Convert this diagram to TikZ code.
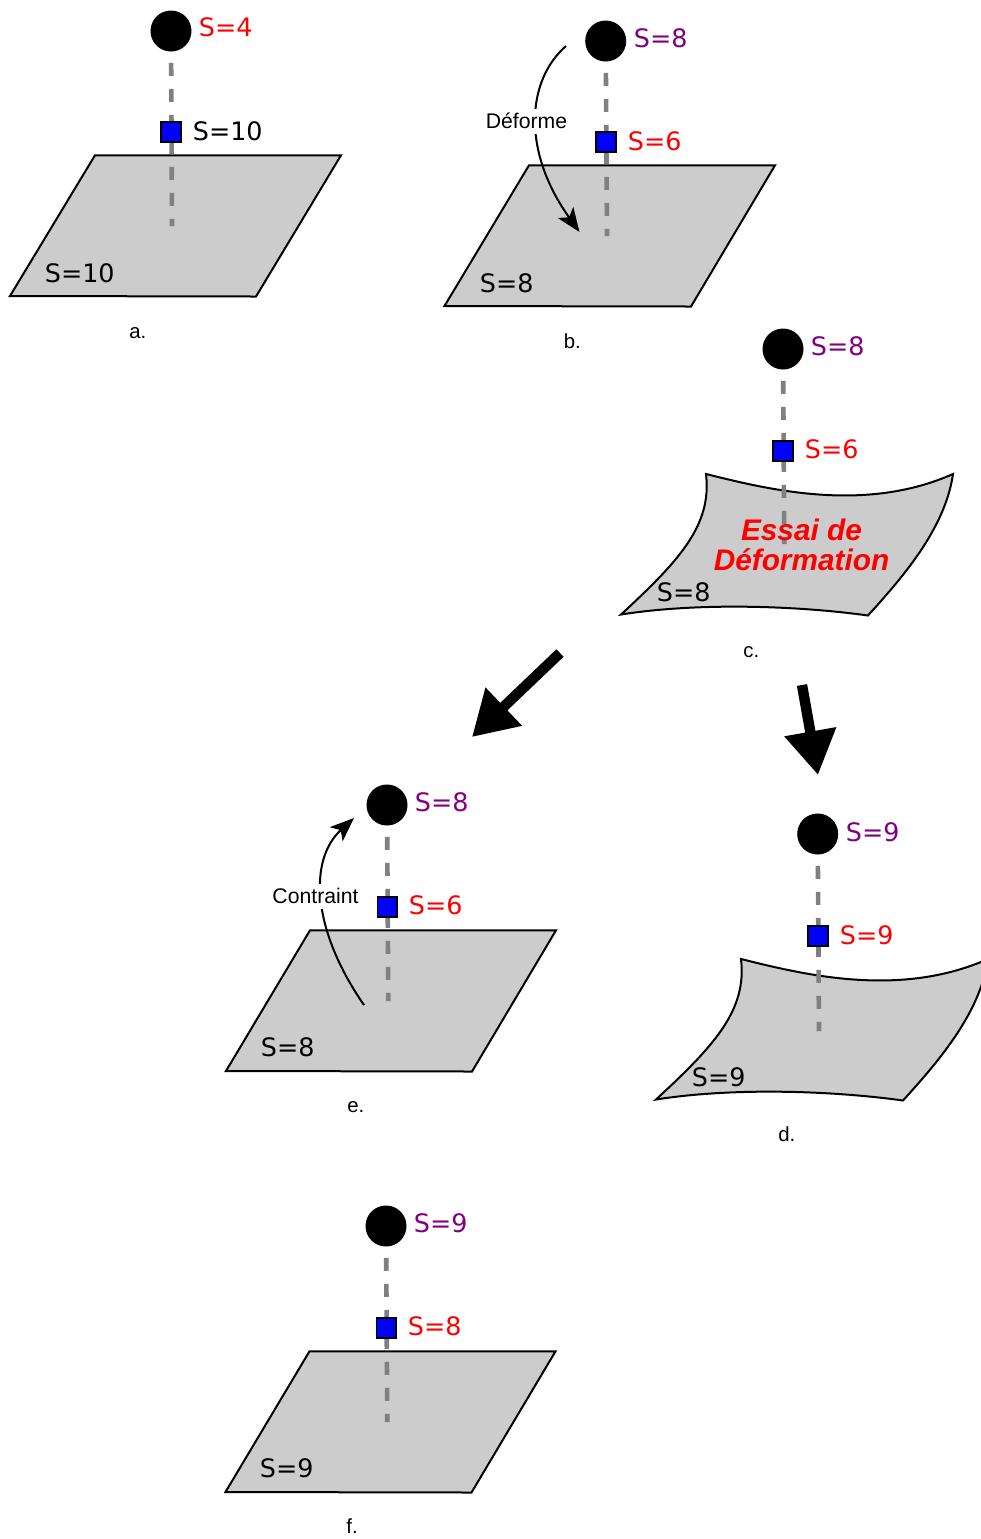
\documentclass[tikz,border=0pt]{standalone}
\usepackage{fontspec}
\setmainfont{Liberation Sans}
\newfontfamily\djvfont{DejaVu Sans}
\usepackage{xcolor}
\usetikzlibrary{arrows.meta}
\definecolor{plategray}{HTML}{CCCCCC}
\definecolor{stemgray}{HTML}{808080}
\definecolor{spurple}{HTML}{800080}
\definecolor{sred}{HTML}{FF0000}
\definecolor{sblue}{HTML}{0000FF}

\begin{document}
\begin{tikzpicture}[
  x=0.5pt, y=-0.5pt,
  plate/.style={draw=black, fill=plategray, line width=1pt, line join=miter},
  stem/.style={stemgray, line width=2.3pt, dash pattern=on 6.5pt off 6.5pt, shorten <=5.5pt},
  ball/.style={circle, fill=black, minimum size=20.5pt, inner sep=0pt},
  probe/.style={draw=black, fill=sblue, line width=0.9pt, minimum size=9.8pt, inner sep=0pt},
  slabel/.style={anchor=base west, inner sep=0pt, font=\djvfont\fontsize{12.7}{15}\selectfont},
  tag/.style={anchor=base west, inner sep=0pt, font=\fontsize{10.2}{12}\selectfont},
  curvearrow/.style={-{Stealth[length=12pt, width=9.5pt, inset=3pt]}, line width=1pt},
  actor/.style={fill=white, inner sep=0pt, minimum height=12.5pt, font=\fontsize{10.6}{12}\selectfont},
  bigarrow/.style={-{Triangle[length=22pt, width=25pt]}, line width=5.2pt},
  ]
  \useasboundingbox (0,0) rectangle (981,1539);

  % a.
  \draw[plate] (95,155.3) -- (341,155.3) -- (256,296.5) -- (10,296) -- cycle;
  \node[ball] (b1) at (171,31) {};
  \coordinate (e1) at (172,226);
  \draw[stem] (b1) -- (e1);
  \node[probe] (q1) at (171,132) {};
  \node[slabel, text=sred] (s1) at (198.5,36.5) {S=4};
  \node[slabel] (t1) at (192.5,140) {S=10};
  \node[slabel] (p1) at (44.5,282.5) {S=10};
  \node[tag] (l1) at (129,338) {a.};

  % b.
  \draw[plate] (529,165.3) -- (775,165.3) -- (691,306.5) -- (444.5,306) -- cycle;
  \node[ball] (b2) at (605.7,41) {};
  \coordinate (e2) at (607,236);
  \draw[stem] (b2) -- (e2);
  \node[probe] (q2) at (606,142) {};
  \node[slabel, text=spurple] (s2) at (633.5,47) {S=8};
  \node[slabel, text=sred] (t2) at (627.5,150) {S=6};
  \node[slabel] (p2) at (479.5,292.5) {S=8};
  \node[tag] (l2) at (563.5,348.5) {b.};
  \coordinate (d1) at (566,46);
  \coordinate (d2) at (579.5,232);
  \draw[curvearrow] (d1) .. controls (527,80) and (521,150) .. (d2);
  \node[actor] (n1) at (526.5,121) {Déforme};

  % c.
  \draw[plate] (706,474) .. controls (770,490) and (865,513) .. (953,474)
    .. controls (945,530) and (900,580) .. (868,615.5)
    .. controls (800,606) and (700,602) .. (621,614.5)
    .. controls (680,560) and (712,525) .. (706,474) -- cycle;
  \node[ball] (b3) at (783,349) {};
  \coordinate (e3) at (784.3,544);
  \draw[stem] (b3) -- (e3);
  \node[probe] (q3) at (783,451) {};
  \node[slabel, text=spurple] (s3) at (810.5,355.5) {S=8};
  \node[slabel, text=sred] (t3) at (804.5,458.5) {S=6};
  \node[slabel] (p3) at (656.5,601) {S=8};
  \node[tag] (l3) at (743,657) {c.};
  \node[align=center, inner sep=0pt, text=sred, font=\bfseries\itshape\fontsize{14.9}{15}\selectfont]
    (n3) at (801.5,545) {Essai de\\Déformation};

  % arrows between the rows
  \coordinate (a1) at (560,653);
  \coordinate (a2) at (472,737);
  \coordinate (a3) at (802,685);
  \coordinate (a4) at (818,775);
  \draw[bigarrow] (a1) -- (a2);
  \draw[bigarrow] (a3) -- (a4);

  % d.
  \draw[plate] (741,959) .. controls (805,975) and (900,998) .. (988,959)
    .. controls (980,1015) and (935,1065) .. (903,1100.5)
    .. controls (835,1091) and (735,1087) .. (656,1099.5)
    .. controls (715,1045) and (747,1010) .. (741,959) -- cycle;
  \node[ball] (b4) at (817.7,834) {};
  \coordinate (e4) at (819,1031);
  \draw[stem] (b4) -- (e4);
  \node[probe] (q4) at (818,936) {};
  \node[slabel, text=spurple] (s4) at (845.5,841) {S=9};
  \node[slabel, text=sred] (t4) at (839.5,944) {S=9};
  \node[slabel] (p4) at (691.5,1086) {S=9};
  \node[tag] (l4) at (778,1141.5) {d.};

  % e.
  \draw[plate] (310,930.3) -- (556,930.3) -- (472,1071.5) -- (226,1071) -- cycle;
  \node[ball] (b5) at (387,805) {};
  \coordinate (e5) at (388.3,1001);
  \draw[stem] (b5) -- (e5);
  \node[probe] (q5) at (387.3,907) {};
  \node[slabel, text=spurple] (s5) at (414.5,811.5) {S=8};
  \node[slabel, text=sred] (t5) at (408.5,914.5) {S=6};
  \node[slabel] (p5) at (260.5,1056.5) {S=8};
  \node[tag] (l5) at (347,1112.5) {e.};
  \coordinate (f1) at (364,1005);
  \coordinate (f2) at (354,818);
  \draw[curvearrow] (f1) .. controls (312,930) and (308,860) .. (f2);
  \node[actor] (n5) at (315.5,896) {Contraint};

  % f.
  \draw[plate] (309.5,1351.3) -- (555.5,1351.3) -- (471.5,1492.5) -- (225.5,1492) -- cycle;
  \node[ball] (b6) at (386,1226) {};
  \coordinate (e6) at (387.3,1422);
  \draw[stem] (b6) -- (e6);
  \node[probe] (q6) at (386.3,1328) {};
  \node[slabel, text=spurple] (s6) at (413.5,1232.5) {S=9};
  \node[slabel, text=sred] (t6) at (407.5,1335.5) {S=8};
  \node[slabel] (p6) at (259.5,1477.5) {S=9};
  \node[tag] (l6) at (346,1533) {f.};
\end{tikzpicture}
\end{document}
